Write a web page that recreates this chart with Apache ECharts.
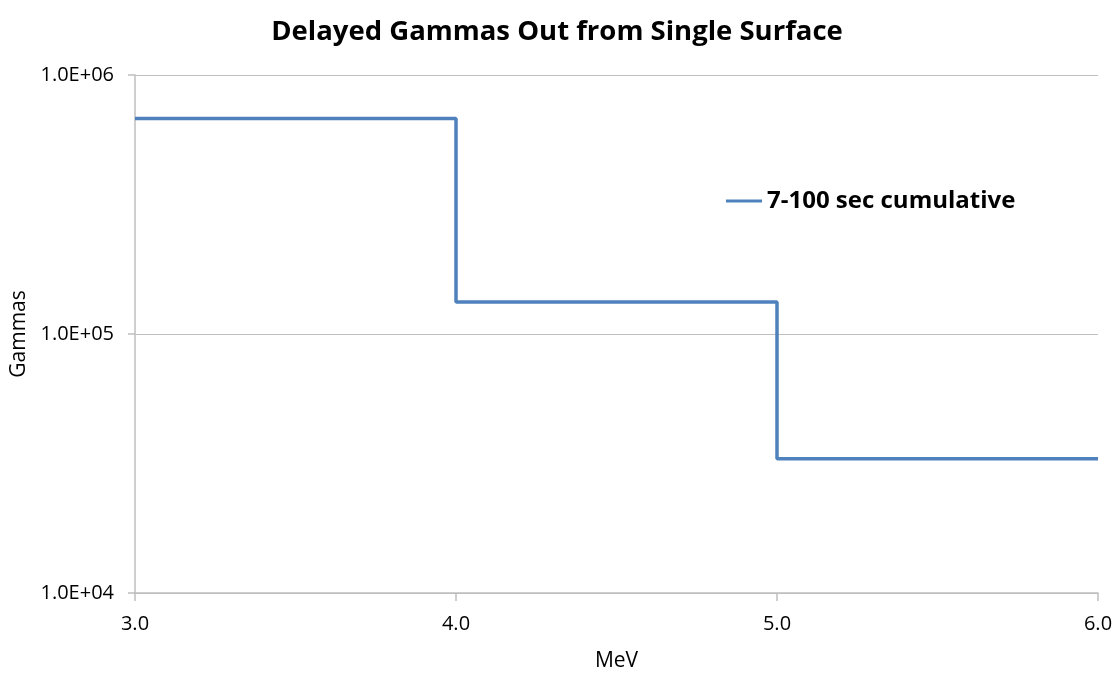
<!DOCTYPE html>
<html>
<head>
<meta charset="utf-8">
<script src="https://cdn.jsdelivr.net/npm/echarts@6/dist/echarts.min.js"></script>
<style>
  html, body { margin: 0; padding: 0; background: #fff; }
  #chart { width: 1114px; height: 673px; }
</style>
</head>
<body>
<div id="chart"></div>
<script>
// step edges (MeV) and gammas in each bin
const energies = [3.0, 4.0, 5.0, 6.0]
const gammas = [6.8e5, 1.33e5, 3.3e4, 3.3e4]
const seriesName = '7-100 sec cumulative'

const chart = echarts.init(document.getElementById('chart'))
const font = '"Open Sans", "Liberation Sans", sans-serif'

const fmtExp = (v) => {
  const e = Math.round(Math.log10(v))
  const m = v / Math.pow(10, e)
  return m.toFixed(1) + 'E+' + String(e).padStart(2, '0')
}

chart.setOption({
  title: {
    text: 'Delayed Gammas Out from Single Surface',
    left: 'center',
    top: 13,
    textStyle: { fontFamily: font, fontSize: 27.5, fontWeight: 'bold', color: '#000' }
  },
  legend: {
    left: 721,
    top: 184,
    itemWidth: 36,
    itemHeight: 3,
    icon: 'rect',
    itemGap: 5,
    textStyle: { fontFamily: font, fontSize: 24, fontWeight: 'bold', color: '#000' },
    data: [seriesName]
  },
  grid: { left: 135, right: 16, top: 75, bottom: 80, outerBoundsMode: 'none' },
  xAxis: {
    type: 'value',
    min: 3,
    max: 6,
    interval: 1,
    name: 'MeV',
    nameLocation: 'middle',
    nameGap: 58,
    nameTextStyle: { fontFamily: font, fontSize: 21, color: '#000' },
    axisLine: { lineStyle: { color: '#BFBFBF', width: 1.5 } },
    axisTick: { show: true, length: 8, lineStyle: { color: '#BFBFBF', width: 1.5 } },
    axisLabel: { fontFamily: font, fontSize: 20, color: '#000', margin: 21, formatter: (v) => v.toFixed(1) },
    splitLine: { show: false }
  },
  yAxis: {
    type: 'log',
    logBase: 10,
    min: 1e4,
    max: 1e6,
    name: 'Gammas',
    nameLocation: 'middle',
    nameGap: 96,
    nameTextStyle: { fontFamily: font, fontSize: 21, color: '#000' },
    axisLine: { show: true, lineStyle: { color: '#BFBFBF', width: 1.5 } },
    axisTick: { show: true, length: 7, lineStyle: { color: '#BFBFBF', width: 1.5 } },
    axisLabel: { fontFamily: font, fontSize: 20, color: '#000', margin: 21, formatter: fmtExp },
    splitLine: { show: true, lineStyle: { color: '#BFBFBF', width: 1.2 } }
  },
  series: [{
    name: seriesName,
    type: 'line',
    step: 'end',
    showSymbol: false,
    symbol: 'none',
    data: energies.map((e, i) => [e, gammas[i]]),
    lineStyle: { color: '#4F81BD', width: 3.5 },
    itemStyle: { color: '#4F81BD' }
  }]
})
</script>
</body>
</html>
